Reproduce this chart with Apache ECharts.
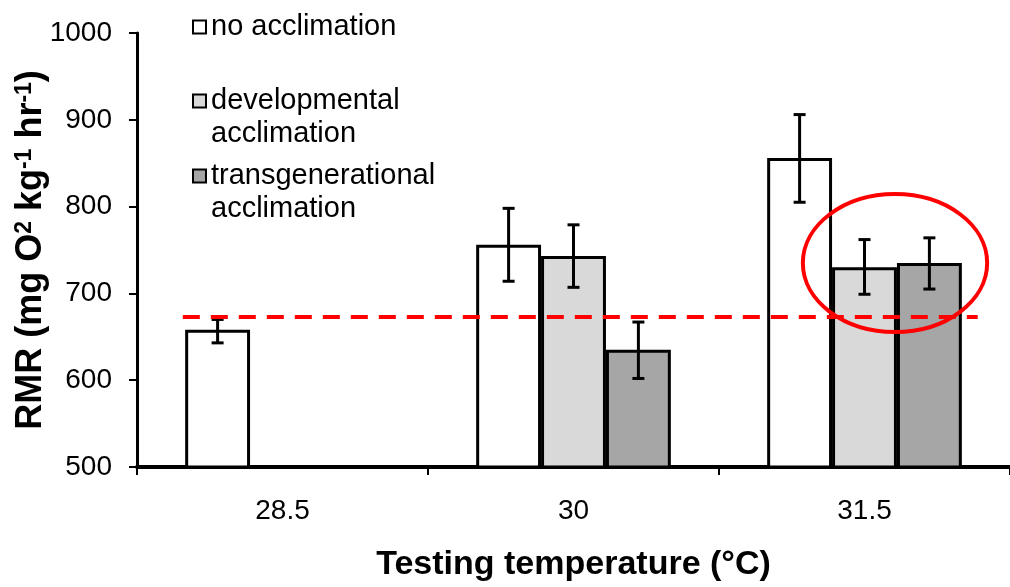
<!DOCTYPE html>
<html><head><meta charset="utf-8">
<script src="https://cdn.jsdelivr.net/npm/echarts@6/dist/echarts.min.js"></script>
<style>html,body{margin:0;padding:0;background:#fff}#c{width:1010px;height:587px}</style>
</head><body><div id="c"></div>
<script>
const categories = ['28.5', '30', '31.5'];
const seriesNames = ['no acclimation', 'developmental acclimation', 'transgenerational acclimation'];
const noAccl = [658, 756, 856];
const noAcclLow = [643, 714, 805];
const noAcclHigh = [670, 798, 906];
const devAccl = [null, 743, 730];
const devAcclLow = [null, 707, 699];
const devAcclHigh = [null, 779, 762];
const transAccl = [null, 635, 735];
const transAcclLow = [null, 602, 705];
const transAcclHigh = [null, 667, 764];
const referenceLine = 673;
const yTicks = [500, 600, 700, 800, 900, 1000];

const colors = ['#ffffff', '#d9d9d9', '#a6a6a6'];
const FONT = 'Liberation Sans, Arial, sans-serif';
const BAR_FRAC = 0.223;

const values = [noAccl, devAccl, transAccl];
const lows = [noAcclLow, devAcclLow, transAcclLow];
const highs = [noAcclHigh, devAcclHigh, transAcclHigh];

const chart = echarts.init(document.getElementById('c'));

const series = [];
values.forEach((v, k) => {
  const s = {
    name: seriesNames[k], type: 'bar', data: v,
    barWidth: (BAR_FRAC * 100) + '%', barGap: '0%',
    itemStyle: { color: colors[k], borderColor: '#000', borderWidth: 3 },
    z: 2
  };
  if (k === 0) {
    s.markLine = {
      symbol: 'none', silent: true, label: { show: false },
      lineStyle: { color: '#ff0000', type: [17, 11], width: 4 },
      data: [[{ x: '18.1%', yAxis: referenceLine }, { x: '96.8%', yAxis: referenceLine }]],
      z: 5
    };
  }
  series.push(s);
});
values.forEach((v, k) => {
  const data = [];
  v.forEach((val, i) => { if (val != null) data.push([i, lows[k][i], highs[k][i]]); });
  series.push({
    type: 'custom', silent: true, z: 4,
    data: data,
    encode: { x: 0, y: [1, 2] },
    renderItem: function (params, api) {
      const i = api.value(0);
      const lo = api.coord([i, api.value(1)]);
      const hi = api.coord([i, api.value(2)]);
      const bw = api.size([1, 0])[0] * BAR_FRAC;
      const x = lo[0] + (k - 1) * bw;
      const cap = 6;
      const st = { stroke: '#000', lineWidth: 3 };
      return { type: 'group', children: [
        { type: 'line', shape: { x1: x, y1: lo[1], x2: x, y2: hi[1] }, style: st },
        { type: 'line', shape: { x1: x - cap, y1: lo[1], x2: x + cap, y2: lo[1] }, style: st },
        { type: 'line', shape: { x1: x - cap, y1: hi[1], x2: x + cap, y2: hi[1] }, style: st }
      ]};
    }
  });
});

const legendBase = {
  orient: 'vertical', left: 192, padding: 0, icon: 'rect',
  itemWidth: 13, itemHeight: 13, itemGap: 0,
  itemStyle: { borderColor: '#000', borderWidth: 2 },
  textStyle: { fontFamily: FONT, fontSize: 29, color: '#000', lineHeight: 33 }
};
const twoLine = n => ' \n' + n.replace(' ', '\n');

chart.setOption({
  animation: false,
  backgroundColor: '#fff',
  grid: { left: 137, right: 0, top: 33, bottom: 120, containLabel: false, outerBoundsMode: 'none' },
  legend: [
    Object.assign({}, legendBase, { top: 10.5, data: [seriesNames[0]] }),
    Object.assign({}, legendBase, { top: 51.5, data: [seriesNames[1]], formatter: twoLine }),
    Object.assign({}, legendBase, { top: 126.5, data: [seriesNames[2]], formatter: twoLine })
  ],
  xAxis: {
    type: 'category', data: categories,
    name: 'Testing temperature (°C)', nameLocation: 'middle', nameGap: 81, nameMoveOverlap: false,
    nameTextStyle: { fontFamily: FONT, fontSize: 34, fontWeight: 'bold', color: '#000' },
    axisLine: { lineStyle: { color: '#000', width: 4 } },
    axisTick: { show: true, alignWithLabel: false, length: 8, lineStyle: { color: '#000', width: 2 } },
    axisLabel: { fontFamily: FONT, fontSize: 28, color: '#000', margin: 30 },
    splitLine: { show: false }
  },
  yAxis: {
    type: 'value', min: yTicks[0], max: yTicks[yTicks.length - 1], interval: 100,
    name: 'RMR (mg O{sup|2} kg{sup|-1} hr{sup|-1})', nameLocation: 'middle', nameGap: 88, nameMoveOverlap: false,
    nameTextStyle: { fontFamily: FONT, fontSize: 36, fontWeight: 'bold', color: '#000',
      rich: { sup: { fontFamily: FONT, fontSize: 23, fontWeight: 'bold', color: '#000', verticalAlign: 'top' } } },
    axisLine: { show: true, lineStyle: { color: '#000', width: 3 } },
    axisTick: { show: true, length: 8, lineStyle: { color: '#000', width: 2 } },
    axisLabel: { fontFamily: FONT, fontSize: 28, color: '#000', margin: 25, formatter: v => String(v) },
    splitLine: { show: false }
  },
  series: series
});

// highlight ellipse around the 31.5 acclimation bars
const c = chart.convertToPixel({ xAxisIndex: 0, yAxisIndex: 0 }, [2, 735]);
const bw = chart.getModel().getComponent('grid').coordinateSystem.getRect().width / categories.length * BAR_FRAC;
chart.setOption({
  graphic: [{
    type: 'ellipse', z: 10, silent: true,
    shape: { cx: c[0] + bw * 0.47, cy: c[1], rx: bw * 1.42, ry: 69 },
    style: { fill: 'none', stroke: '#ff0000', lineWidth: 4 }
  }]
});
</script></body></html>
